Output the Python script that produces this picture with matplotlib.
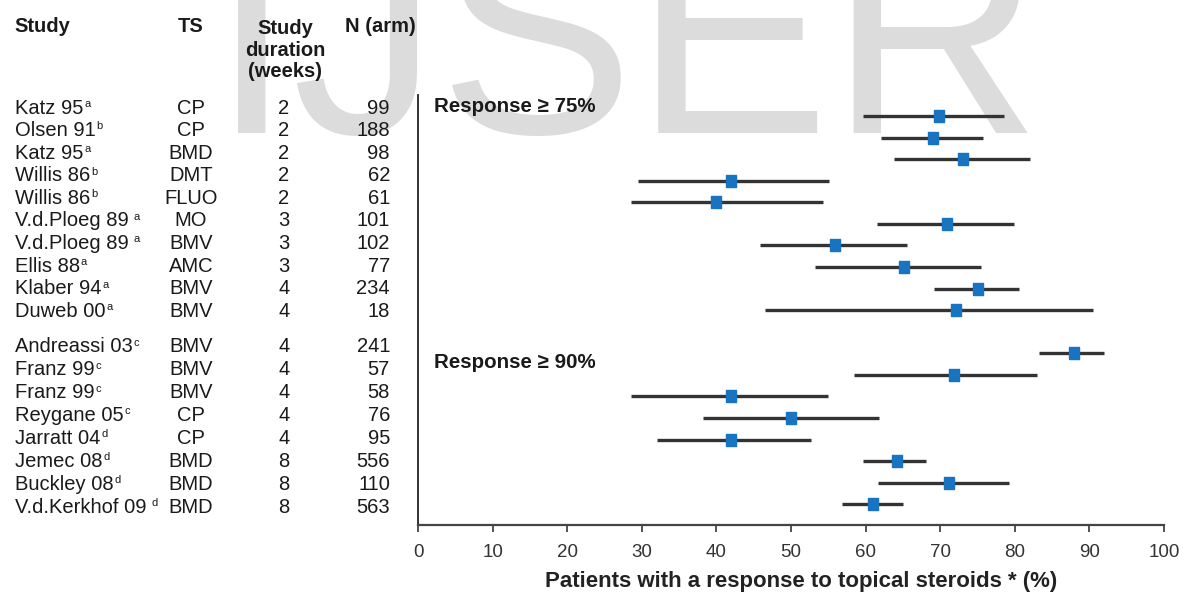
import matplotlib
matplotlib.use("Agg")
import matplotlib.pyplot as plt

plt.rcParams['font.family'] = ['Liberation Sans', 'DejaVu Sans']

# data
study = ["Katz 95", "Olsen 91", "Katz 95", "Willis 86", "Willis 86", "V.d.Ploeg 89", "V.d.Ploeg 89",
         "Ellis 88", "Klaber 94", "Duweb 00", "Andreassi 03", "Franz 99", "Franz 99", "Reygane 05",
         "Jarratt 04", "Jemec 08", "Buckley 08", "V.d.Kerkhof 09"]
ref = ["a", "b", "a", "b", "b", "a", "a", "a", "a", "a", "c", "c", "c", "c", "d", "d", "d", "d"]
ts = ["CP", "CP", "BMD", "DMT", "FLUO", "MO", "BMV", "AMC", "BMV", "BMV",
      "BMV", "BMV", "BMV", "CP", "CP", "BMD", "BMD", "BMD"]
weeks = [2, 2, 2, 2, 2, 3, 3, 3, 4, 4, 4, 4, 4, 4, 4, 8, 8, 8]
n_arm = [99, 188, 98, 62, 61, 101, 102, 77, 234, 18, 241, 57, 58, 76, 95, 556, 110, 563]
est = [69.8, 69.0, 73.0, 42.0, 39.9, 70.9, 55.9, 65.2, 75.1, 72.1,
       88.0, 71.9, 42.0, 50.0, 42.0, 64.2, 71.2, 61.0]
lo = [59.6, 62.0, 63.8, 29.5, 28.6, 61.5, 45.9, 53.2, 69.2, 46.5,
      83.3, 58.5, 28.6, 38.2, 32.0, 59.7, 61.6, 56.8]
hi = [78.5, 75.7, 82.0, 55.1, 54.3, 79.9, 65.5, 75.5, 80.5, 90.5,
      92.0, 83.0, 55.0, 61.8, 52.7, 68.1, 79.2, 65.0]
groups = ["Response \u2265 75%", "Response \u2265 90%"]
xticks = [0, 10, 20, 30, 40, 50, 60, 70, 80, 90, 100]

W, H = 1186, 597
fig = plt.figure(figsize=(W / 100, H / 100), dpi=100)

def fx(px):
    return px / W

def fy(py):
    return 1 - py / H

ax = fig.add_axes([fx(418), fy(525), fx(1164) - fx(418), fy(95) - fy(525)])
ax.patch.set_visible(False)

# row positions: first block 10 rows, then an empty row
ypos = list(range(10)) + list(range(11, 19))

for y, e, l, h in zip(ypos, est, lo, hi):
    ax.plot([l, h], [y, y], color='#333333', lw=2.4, solid_capstyle='butt', zorder=2)
rect = [(-0.42, -0.5), (0.42, -0.5), (0.42, 0.5), (-0.42, 0.5), (-0.42, -0.5)]
ax.plot(est, ypos, ls='none', marker=rect, markersize=9, color='#1874c1', zorder=3)

ax.set_xlim(0, 100)
ax.set_ylim(18.96, -0.97)
ax.set_xticks(xticks)
ax.set_yticks([])
for s in ['top', 'right']:
    ax.spines[s].set_visible(False)
ax.spines['left'].set_linewidth(1.3)
ax.spines['bottom'].set_linewidth(1.6)
ax.spines['left'].set_color('#222222')
ax.spines['bottom'].set_color('#444444')
ax.tick_params(axis='x', length=5, width=1.3, color='#444444', labelsize=13.5,
               labelcolor='#333333', pad=9)
ax.set_xlabel("Patients with a response to topical steroids * (%)", fontsize=16,
              fontweight='bold', color='#222222', va='center')
ax.xaxis.set_label_coords((801 - 418) / 746, -(582 - 525) / 430)

# watermark
fig.text(fx(211), fy(133), "IJSER", fontsize=211, color='#dcdcdc', va='baseline',
         ha='left', zorder=-5)

# table header
tc = '#1a1a1a'
fig.text(fx(14), fy(27), "Study", fontsize=14.5, fontweight='bold', va='center', color=tc)
fig.text(fx(191), fy(27), "TS", fontsize=14.5, fontweight='bold', va='center', ha='center', color=tc)
fig.text(fx(285), fy(50), "Study\nduration\n(weeks)", fontsize=14.5, fontweight='bold', va='center',
         ha='center', color=tc, linespacing=1.17)
fig.text(fx(380), fy(27), "N (arm)", fontsize=14.5, fontweight='bold', va='center', ha='center', color=tc)

# table rows
text_y = [108 + i * 22.6 for i in range(10)] + [347 + i * 22.86 for i in range(8)]
spaced = {5, 6, 17}
for i, ty in enumerate(text_y):
    t = fig.text(fx(15), fy(ty), study[i], fontsize=14.5, va='center', color=tc)
    fig.text(fx(191), fy(ty), ts[i], fontsize=14.5, va='center', ha='center', color=tc)
    fig.text(fx(284), fy(ty), str(weeks[i]), fontsize=14.5, va='center', ha='center', color=tc)
    fig.text(fx(390), fy(ty), str(n_arm[i]), fontsize=14.5, va='center', ha='right', color=tc)
    ax.annotate(ref[i], xy=(1, 0.72), xycoords=t, xytext=(3.5 if i in spaced else 0.5, 0),
                textcoords='offset points', fontsize=8, va='center', ha='left', color=tc,
                annotation_clip=False)

fig.text(fx(434), fy(107), groups[0], fontsize=14.8, fontweight='bold', va='center', color=tc)
fig.text(fx(434), fy(362), groups[1], fontsize=14.8, fontweight='bold', va='center', color=tc)

fig.savefig("out.png", dpi=100)
